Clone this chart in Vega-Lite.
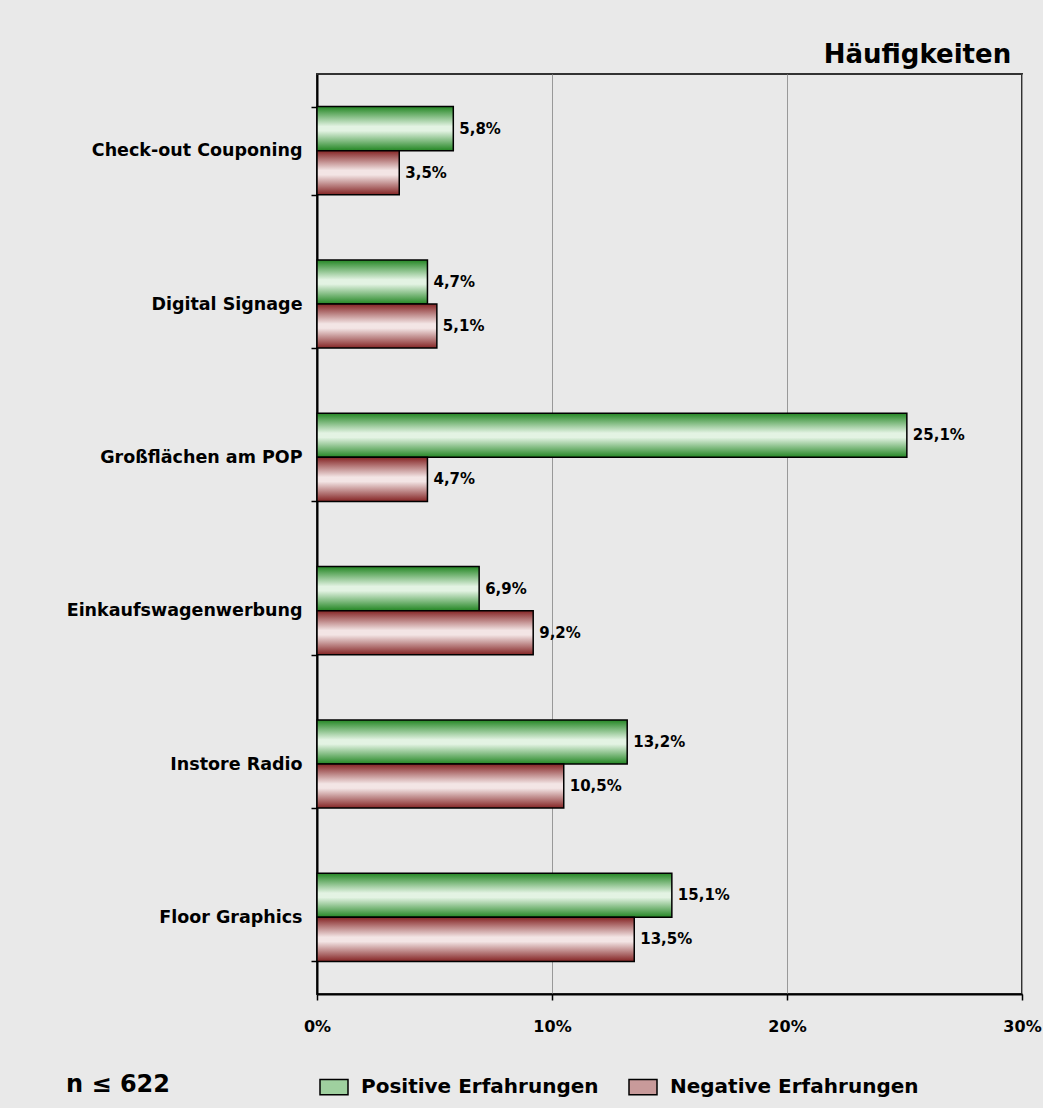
{
  "$schema": "https://vega.github.io/schema/vega-lite/v6.json",
  "width": 705,
  "height": 920,
  "autosize": {"type": "none"},
  "padding": {"left": 317, "top": 74, "right": 21, "bottom": 114},
  "background": "#e9e9e9",
  "title": {
    "text": "Häufigkeiten",
    "anchor": "end",
    "fontSize": 26,
    "fontWeight": "bold",
    "font": "DejaVu Sans",
    "color": "#000000",
    "dx": -30,
    "baseline": "alphabetic",
    "offset": -24
  },
  "data": {
    "values": [
      {"kat": "Check-out Couponing", "typ": "Positive Erfahrungen", "wert": 0.058},
      {"kat": "Check-out Couponing", "typ": "Negative Erfahrungen", "wert": 0.035},
      {"kat": "Digital Signage", "typ": "Positive Erfahrungen", "wert": 0.047},
      {"kat": "Digital Signage", "typ": "Negative Erfahrungen", "wert": 0.051},
      {"kat": "Großflächen am POP", "typ": "Positive Erfahrungen", "wert": 0.251},
      {"kat": "Großflächen am POP", "typ": "Negative Erfahrungen", "wert": 0.047},
      {"kat": "Einkaufswagenwerbung", "typ": "Positive Erfahrungen", "wert": 0.069},
      {"kat": "Einkaufswagenwerbung", "typ": "Negative Erfahrungen", "wert": 0.092},
      {"kat": "Instore Radio", "typ": "Positive Erfahrungen", "wert": 0.132},
      {"kat": "Instore Radio", "typ": "Negative Erfahrungen", "wert": 0.105},
      {"kat": "Floor Graphics", "typ": "Positive Erfahrungen", "wert": 0.151},
      {"kat": "Floor Graphics", "typ": "Negative Erfahrungen", "wert": 0.135}
    ]
  },
  "encoding": {
    "y": {
      "field": "kat",
      "type": "nominal",
      "sort": null,
      "scale": {"paddingInner": 0.425, "paddingOuter": 0.2125},
      "axis": {
        "title": null,
        "tickBand": "extent",
        "tickSize": 6,
        "tickColor": "#000000",
        "tickWidth": 1.5,
        "domainColor": "#000000",
        "domainWidth": 2,
        "labelPadding": 9,
        "labelFontSize": 17.5,
        "labelLimit": 400,
        "labelFont": "DejaVu Sans",
        "labelFontWeight": "bold",
        "labelColor": "#000000",
        "grid": false
      }
    },
    "yOffset": {
      "field": "typ",
      "type": "nominal",
      "sort": ["Positive Erfahrungen", "Negative Erfahrungen"],
      "scale": {"paddingInner": 0, "paddingOuter": 0}
    },
    "x": {
      "field": "wert",
      "type": "quantitative",
      "scale": {"domain": [0, 0.3], "nice": false},
      "axis": {
        "title": null,
        "values": [0, 0.1, 0.2, 0.3],
        "format": ".0%",
        "tickSize": 6,
        "tickColor": "#000000",
        "tickWidth": 1.5,
        "domainColor": "#000000",
        "domainWidth": 2,
        "labelPadding": 18,
        "labelFontSize": 16,
        "labelFont": "DejaVu Sans",
        "labelFontWeight": "bold",
        "labelColor": "#000000",
        "labelFlush": false,
        "grid": true,
        "gridColor": "#999999",
        "gridWidth": 1
      }
    }
  },
  "layer": [
    {
      "mark": {"type": "bar", "opacity": 0},
      "encoding": {
        "fill": {
          "field": "typ",
          "type": "nominal",
          "scale": {"domain": ["Positive Erfahrungen", "Negative Erfahrungen"], "range": ["#9fd09f", "#c89a9a"]},
          "legend": {
            "orient": "none",
            "legendX": -251,
            "legendY": 998,
            "direction": "horizontal",
            "title": "n ≤ 622",
            "titleOrient": "left",
            "titleFontSize": 24,
            "titleFont": "DejaVu Sans",
            "titleFontWeight": "bold",
            "titleColor": "#000000",
            "titlePadding": 148,
            "titleBaseline": "middle",
            "labelFontSize": 20,
            "labelLimit": 400,
            "labelFont": "DejaVu Sans",
            "labelFontWeight": "bold",
            "labelColor": "#000000",
            "labelOffset": 12,
            "columnPadding": 27,
            "symbolType": "M-1,-0.55H1V0.55H-1Z",
            "symbolSize": 784,
            "symbolStrokeColor": "#000000",
            "symbolStrokeWidth": 1.5,
            "symbolOpacity": 1,
            "padding": 0
          }
        }
      }
    },
    {
      "transform": [{"filter": "datum.typ === 'Positive Erfahrungen'"}],
      "mark": {
        "type": "bar",
        "stroke": "#000000",
        "strokeWidth": 1.5,
        "fill": {"gradient": "linear", "x1": 0, "y1": 0, "x2": 0, "y2": 1, "stops": [
          {"offset": 0, "color": "#238623"},
          {"offset": 0.45, "color": "#e3f3e3"},
          {"offset": 0.55, "color": "#e3f3e3"},
          {"offset": 1, "color": "#238623"}
        ]}
      },
      "encoding": {}
    },
    {
      "transform": [{"filter": "datum.typ === 'Negative Erfahrungen'"}],
      "mark": {
        "type": "bar",
        "stroke": "#000000",
        "strokeWidth": 1.5,
        "fill": {"gradient": "linear", "x1": 0, "y1": 0, "x2": 0, "y2": 1, "stops": [
          {"offset": 0, "color": "#842424"},
          {"offset": 0.45, "color": "#f3e5e5"},
          {"offset": 0.55, "color": "#f3e5e5"},
          {"offset": 1, "color": "#842424"}
        ]}
      },
      "encoding": {}
    },
    {
      "mark": {"type": "text", "align": "left", "baseline": "middle", "dx": 6, "fontSize": 15, "font": "DejaVu Sans", "fontWeight": "bold", "color": "#000000"},
      "encoding": {
        "text": {"field": "wert", "type": "quantitative", "format": ".1%"}
      }
    }
  ],
  "config": {
    "locale": {"number": {"decimal": ",", "thousands": ".", "grouping": [3], "currency": ["", " €"]}},
    "view": {"stroke": "#333333", "strokeWidth": 2},
    "font": "DejaVu Sans"
  }
}
